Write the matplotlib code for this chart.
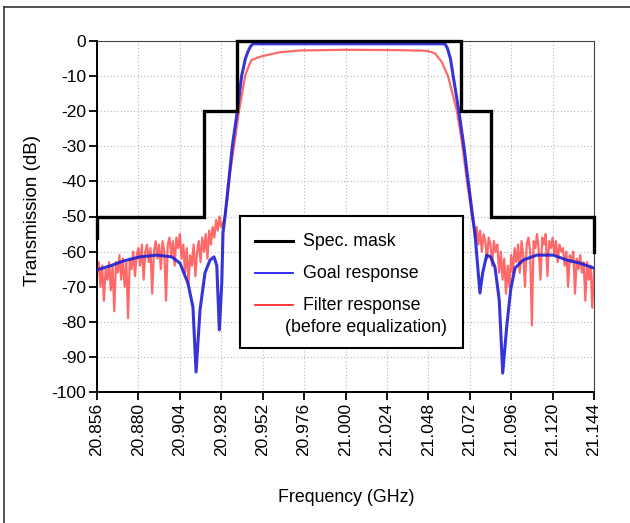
import matplotlib
matplotlib.use('Agg')
import matplotlib.pyplot as plt
import numpy as np
from matplotlib.lines import Line2D
from matplotlib.patches import Rectangle

plt.rcParams['font.family'] = ['Liberation Sans', 'DejaVu Sans']

# ---------------- data ----------------
x_ticks = [20.856, 20.880, 20.904, 20.928, 20.952, 20.976, 21.000,
           21.024, 21.048, 21.072, 21.096, 21.120, 21.144]
x_tick_labels = ['20.856', '20.880', '20.904', '20.928', '20.952', '20.976',
                 '21.000', '21.024', '21.048', '21.072', '21.096', '21.120', '21.144']
y_ticks = [0, -10, -20, -30, -40, -50, -60, -70, -80, -90, -100]
y_tick_labels = ['0', '-10', '-20', '-30', '-40', '-50', '-60', '-70', '-80', '-90', '-100']

mask_freq = [20.856, 20.856, 20.918, 20.918, 20.937, 20.937,
             21.067, 21.067, 21.0844, 21.0844, 21.144, 21.144]
mask_db = [-56, -50, -50, -20, -20, 0, 0, -20, -20, -50, -50, -60]

goal_freq = [20.8560, 20.8640, 20.8711, 20.8809, 20.8906, 20.8993, 20.9041,
             20.9087, 20.9116, 20.9134, 20.9157, 20.9186, 20.9215, 20.9238,
             20.9254, 20.9269, 20.9283, 20.9290, 20.9302, 20.9312, 20.9344,
             20.9373, 20.9398, 20.9420, 20.9435, 20.9450, 20.9464,
             21.0576, 21.0590, 21.0608, 21.0624, 21.0657, 21.0686, 21.0711,
             21.0737, 21.0750, 21.0763, 21.0779, 21.0795, 21.0818, 21.0841,
             21.0866, 21.0891, 21.0911, 21.0934, 21.0957, 21.0982, 21.1030,
             21.1108, 21.1204, 21.1282, 21.1359, 21.1440]
goal_db = [-65.2, -64.0, -62.7, -61.5, -61.0, -61.5, -63.3,
           -69.0, -75.8, -94.3, -76.6, -66.0, -62.4, -61.5,
           -64.0, -82.3, -69.0, -54.7, -50.0, -45.3, -30.0,
           -20.0, -10.0, -5.0, -3.0, -1.5, -0.8,
           -0.8, -2.0, -5.0, -10.0, -20.0, -30.0, -40.0,
           -50.0, -54.7, -62.4, -71.8, -66.0, -61.0, -61.5,
           -64.4, -73.8, -94.6, -81.5, -70.9, -64.7, -62.4,
           -61.0, -61.0, -62.4, -63.3, -64.7]

# filter response, lower stopband (sampled every 1 MHz from 20.856 GHz)
filt_low_start = 20.856
filt_low_db = [-66, -63, -70, -64, -74, -65, -68, -63, -71, -64,
               -77, -63, -66, -61, -68, -62, -70, -63, -79, -62,
               -65, -60, -67, -61, -59, -64, -58, -68, -60, -58,
               -63, -59, -72, -60, -57, -62, -58, -65, -57, -60,
               -74, -58, -56, -61, -57, -64, -56, -59, -55, -62,
               -58, -66, -59, -69, -61, -64, -58, -67, -60, -57,
               -63, -56, -60, -55, -62, -54, -58, -53, -56, -51,
               -54, -50, -53, -52, -50]
# filter response, pass band and skirts
filt_mid_freq = [20.9315, 20.9330, 20.9354, 20.9383, 20.9418, 20.9440, 20.9456,
                 20.9504, 20.9545, 20.9620, 20.9736, 21.0000, 21.0300, 21.0472,
                 21.0518, 21.0557, 21.0594, 21.0646, 21.0678, 21.0704, 21.0733]
filt_mid_db = [-45, -38, -30, -20, -10, -7, -5.4,
               -4.5, -4.0, -3.2, -2.7, -2.5, -2.6, -2.8,
               -3.5, -5.9, -10, -20, -30, -40, -50]
# filter response, upper stopband (sampled every 1 MHz from 21.074 GHz)
filt_high_start = 21.074
filt_high_db = [-52, -56, -53, -58, -54, -60, -55, -57, -62, -56,
                -58, -64, -57, -60, -58, -66, -60, -68, -62, -72,
                -64, -70, -61, -66, -59, -63, -58, -66, -57, -61,
                -70, -58, -56, -60, -81, -57, -59, -55, -60, -68,
                -56, -58, -55, -67, -57, -59, -56, -61, -57, -63,
                -58, -60, -59, -64, -60, -70, -61, -63, -60, -72,
                -62, -65, -61, -66, -63, -74, -63, -68, -64, -76,
                -65]

filt_low_freq = np.round(filt_low_start + 0.001 * np.arange(len(filt_low_db)), 4)
filt_high_freq = np.round(filt_high_start + 0.001 * np.arange(len(filt_high_db)), 4)
filt_freq = np.concatenate([filt_low_freq, filt_mid_freq, filt_high_freq])
filt_db = np.concatenate([filt_low_db, filt_mid_db, filt_high_db])

# ---------------- figure ----------------
W, H = 630, 523
fig = plt.figure(figsize=(W / 100, H / 100), dpi=100)
fig.patch.set_facecolor('white')

ax = fig.add_axes([97 / W, 1 - 392 / H, (594 - 97) / W, (392 - 41) / H])

ax.plot(filt_freq, filt_db, color='#ff2a2a', lw=1.6, alpha=0.7, zorder=2)
ax.plot(goal_freq, goal_db, color='#2020d4', lw=2.2, alpha=0.9, zorder=3)
ax.plot(mask_freq, mask_db, color='black', lw=2.4, zorder=4, clip_on=False,
        solid_joinstyle='miter')

ax.set_xlim(20.856, 21.144)
ax.set_ylim(-100, 0)
ax.set_xticks(x_ticks)
ax.set_xticklabels(x_tick_labels, rotation=90)
ax.set_yticks(y_ticks)
ax.set_yticklabels(y_tick_labels)
ax.tick_params(direction='out', length=6, width=1.3, labelsize=12.5, pad=2,
               colors='black')
ax.grid(True, color='#b8b8b8', lw=0.8, ls=(0, (1, 2)))
ax.set_axisbelow(True)

for s in ['left', 'bottom']:
    ax.spines[s].set_linewidth(1.4)
    ax.spines[s].set_color('black')
for s in ['top', 'right']:
    ax.spines[s].set_linewidth(0.8)
    ax.spines[s].set_color('#444444')

fig.text(346 / W, 1 - 498 / H, 'Frequency (GHz)', ha='center', va='center',
         fontsize=12.8)
fig.text(33 / W, 1 - 211 / H, 'Transmission (dB)', ha='center', va='center',
         rotation=90, fontsize=13.5)

# legend (drawn manually to match layout)
fig.add_artist(Rectangle((240 / W, 1 - 348 / H), 223 / W, 132 / H,
                         transform=fig.transFigure, facecolor='white',
                         edgecolor='black', lw=1.5, zorder=10))
leg_items = [('Spec. mask', 'black', 241),
             ('Goal response', '#1f1fff', 273),
             ('Filter response', '#ff2a2a', 305)]
for txt, col, yy in leg_items:
    fig.add_artist(Line2D([255 / W, 293 / W], [1 - yy / H, 1 - yy / H],
                          transform=fig.transFigure, color=col,
                          lw=2.2 if col == 'black' else 1.3, zorder=11))
    fig.text(303 / W, 1 - yy / H, txt, ha='left', va='center', fontsize=12.8,
             zorder=11)
fig.text(285 / W, 1 - 328 / H, '(before equalization)', ha='left', va='center',
         fontsize=12.8, zorder=11)

# outer frame (left and top edges)
fig.add_artist(Line2D([4 / W, 4 / W], [0, 1 - 7 / H], transform=fig.transFigure,
                      color='#333333', lw=1.2))
fig.add_artist(Line2D([4 / W, 1], [1 - 7 / H, 1 - 7 / H], transform=fig.transFigure,
                      color='#333333', lw=1.2))

fig.savefig('out.png', dpi=100, facecolor='white')
